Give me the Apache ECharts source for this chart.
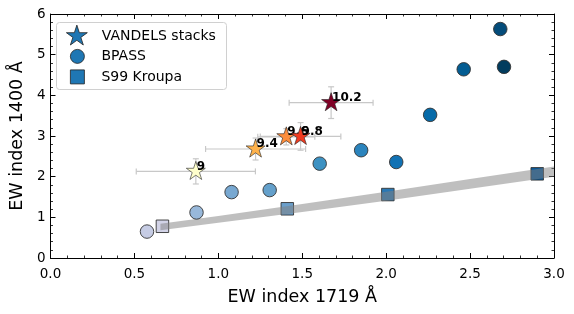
<!DOCTYPE html>
<html><head><meta charset="utf-8">
<script src="https://cdn.jsdelivr.net/npm/echarts@6/dist/echarts.min.js"></script>
<style>html,body{margin:0;padding:0;background:#fff}#c{width:574px;height:314px}</style>
</head><body><div id="c"></div>
<script>
// ---- data ----
const starLabels = ['9', '9.4', '9.6', '9.8', '10.2'];
const starX = [0.866, 1.222, 1.405, 1.490, 1.672];
const starY = [2.13, 2.68, 2.98, 2.99, 3.82];
const starXErr = [0.355, 0.298, 0.17, 0.24, 0.25];
const starYErr = [0.31, 0.27, 0.20, 0.34, 0.39];

const bpassX = [0.575, 0.870, 1.079, 1.306, 1.604, 1.851, 2.060, 2.262, 2.462, 2.680, 2.702];
const bpassY = [0.65, 1.12, 1.62, 1.67, 2.32, 2.65, 2.36, 3.52, 4.64, 5.63, 4.70];

const s99X = [0.667, 1.411, 2.010, 2.900];
const s99Y = [0.78, 1.21, 1.56, 2.07];

const bandX = [0.655, 1.0, 1.5, 2.0, 2.5, 3.0];
const bandLower = [0.68, 0.865, 1.13, 1.41, 1.70, 2.00];
const bandUpper = [0.84, 1.035, 1.33, 1.63, 1.94, 2.25];

// ---- styles ----
const starColors = ['#ffffcc', '#feb24c', '#fd8d3c', '#f03b20', '#800026'];
const bpassColors = ['#c6cce4', '#98b8da', '#78a8d1', '#64a0cb', '#3c91c2', '#2b84bd', '#1172b4', '#066aa8', '#045d93', '#044c7a', '#023c5e'];
const s99Colors = ['#d2d3e7', '#6b9fcb', '#2a78b4', '#08599a'];

const STAR = 'path://M50,100 M50,0 L61.23,34.55 L97.55,34.55 L68.16,55.9 L79.39,90.45 L50,69.1 L20.61,90.45 L31.84,55.9 L2.45,34.55 L38.77,34.55 Z';

const chart = echarts.init(document.getElementById('c'), null, {renderer: 'canvas'});

function axisCommon(extra) {
  return Object.assign({
    type: 'value',
    axisLine: {show: true, onZero: false, lineStyle: {color: '#000', width: 1}},
    axisTick: {show: true, inside: true, length: 5, lineStyle: {color: '#000', width: 1}},
    minorTick: {show: true, splitNumber: 5, length: 2.5, lineStyle: {color: '#000', width: 0.8}},
    splitLine: {show: false},
    minorSplitLine: {show: false}
  }, extra);
}

const series = [];

// band
series.push({
  type: 'custom',
  name: 'band',
  z: 3,
  silent: true,
  data: [[bandX[0], bandLower[0]]],
  encode: {x: 0, y: 1},
  renderItem: function (params, api) {
    const pts = [];
    for (let i = 0; i < bandX.length; i++) pts.push(api.coord([bandX[i], bandUpper[i]]));
    for (let i = bandX.length - 1; i >= 0; i--) pts.push(api.coord([bandX[i], bandLower[i]]));
    return {type: 'polygon', shape: {points: pts}, style: {fill: 'rgba(128,128,128,0.5)', stroke: null}};
  }
});

// S99 squares
series.push({
  type: 'scatter',
  name: 'S99 Kroupa',
  z: 2,
  symbol: 'rect',
  symbolSize: 12.5,
  itemStyle: {color: '#1f77b4', borderColor: '#333', borderWidth: 0.9, opacity: 1},
  data: s99X.map((x, i) => ({value: [x, s99Y[i]], itemStyle: {color: s99Colors[i]}}))
});

// BPASS circles
series.push({
  type: 'scatter',
  name: 'BPASS',
  z: 4,
  symbol: 'circle',
  symbolSize: 13.5,
  itemStyle: {color: '#1f77b4', borderColor: '#333', borderWidth: 0.9, opacity: 1},
  data: bpassX.map((x, i) => ({value: [x, bpassY[i]], itemStyle: {color: bpassColors[i]}}))
});

// error bars
series.push({
  type: 'custom',
  name: 'err',
  z: 4,
  silent: true,
  encode: {x: 0, y: 1},
  data: starX.map((x, i) => [x, starY[i], starXErr[i], starYErr[i]]),
  renderItem: function (params, api) {
    const x = api.value(0), y = api.value(1), xe = api.value(2), ye = api.value(3);
    const l = api.coord([x - xe, y]), r = api.coord([x + xe, y]);
    const t = api.coord([x, y + ye]), b = api.coord([x, y - ye]);
    const cap = 3;
    const st = {stroke: '#c8c8c8', lineWidth: 1.2};
    const ln = (x1, y1, x2, y2) => ({type: 'line', shape: {x1, y1, x2, y2}, style: st});
    return {type: 'group', children: [
      ln(l[0], l[1], r[0], r[1]),
      ln(t[0], t[1], b[0], b[1]),
      ln(l[0], l[1] - cap, l[0], l[1] + cap),
      ln(r[0], r[1] - cap, r[0], r[1] + cap),
      ln(t[0] - cap, t[1], t[0] + cap, t[1]),
      ln(b[0] - cap, b[1], b[0] + cap, b[1])
    ]};
  }
});

// stars, one series each for layering
starX.forEach((x, i) => {
  series.push({
    type: 'scatter',
    name: 'VANDELS stacks',
    z: 10 + i,
    symbol: STAR,
    symbolKeepAspect: true,
    symbolSize: 20,
    itemStyle: {color: '#1f77b4', borderColor: '#222', borderWidth: 0.6, opacity: 1},
    label: {
      show: true, formatter: starLabels[i], position: 'inside', align: 'left', verticalAlign: 'middle',
      offset: [1, -5], fontWeight: 'bold', fontSize: 12, color: '#000', opacity: 1, fontFamily: 'DejaVu Sans'
    },
    data: [{value: [x, starY[i]], itemStyle: {color: starColors[i]}}]
  });
});

const legendText = {fontSize: 14, color: '#000', fontFamily: 'DejaVu Sans'};
const legendItem = {color: '#1f77b4', borderColor: '#222', borderWidth: 0.8, opacity: 1};

chart.setOption({
  animation: false,
  backgroundColor: '#fff',
  textStyle: {fontFamily: 'DejaVu Sans'},
  grid: {left: 47, right: 20, top: 14, bottom: 56, containLabel: false},
  graphic: [{
    type: 'rect', z: 150, silent: true,
    shape: {x: 56.5, y: 22.5, width: 170, height: 67, r: 3},
    style: {fill: '#fff', stroke: '#d0d0d0', lineWidth: 1}
  }],
  legend: [{
    z: 200, left: 66, top: 24.7, orient: 'vertical', padding: 0,
    itemWidth: 22, itemHeight: 22, itemGap: 0, selectedMode: false,
    textStyle: Object.assign({padding: [0, 0, 0, 9]}, legendText),
    itemStyle: legendItem,
    data: [{name: 'VANDELS stacks', icon: STAR}]
  }, {
    z: 200, left: 70, top: 49, orient: 'vertical', padding: 0,
    itemWidth: 14, itemHeight: 14, itemGap: 5.7, selectedMode: false,
    textStyle: Object.assign({padding: [0, 0, 0, 12]}, legendText),
    itemStyle: legendItem,
    data: [{name: 'BPASS', icon: 'circle'}, {name: 'S99 Kroupa', icon: 'rect'}]
  }],
  xAxis: [
    axisCommon({
      position: 'bottom', min: 0, max: 3, interval: 0.5,
      axisLabel: {formatter: v => v.toFixed(1), fontSize: 13.5, color: '#000', margin: 9},
      name: 'EW index 1719 Å', nameLocation: 'middle', nameGap: 30,
      nameTextStyle: {fontSize: 17.5, color: '#000'}
    }),
    axisCommon({position: 'top', min: 0, max: 3, interval: 0.5, axisLabel: {show: false}})
  ],
  yAxis: [
    axisCommon({
      position: 'left', min: 0, max: 6, interval: 1,
      axisLabel: {fontSize: 13.5, color: '#000', margin: 5},
      name: 'EW index 1400 Å', nameLocation: 'middle', nameGap: 22,
      nameTextStyle: {fontSize: 17.5, color: '#000'}
    }),
    axisCommon({position: 'right', min: 0, max: 6, interval: 1, axisLabel: {show: false}})
  ],
  series: series
});
</script>
</body></html>
